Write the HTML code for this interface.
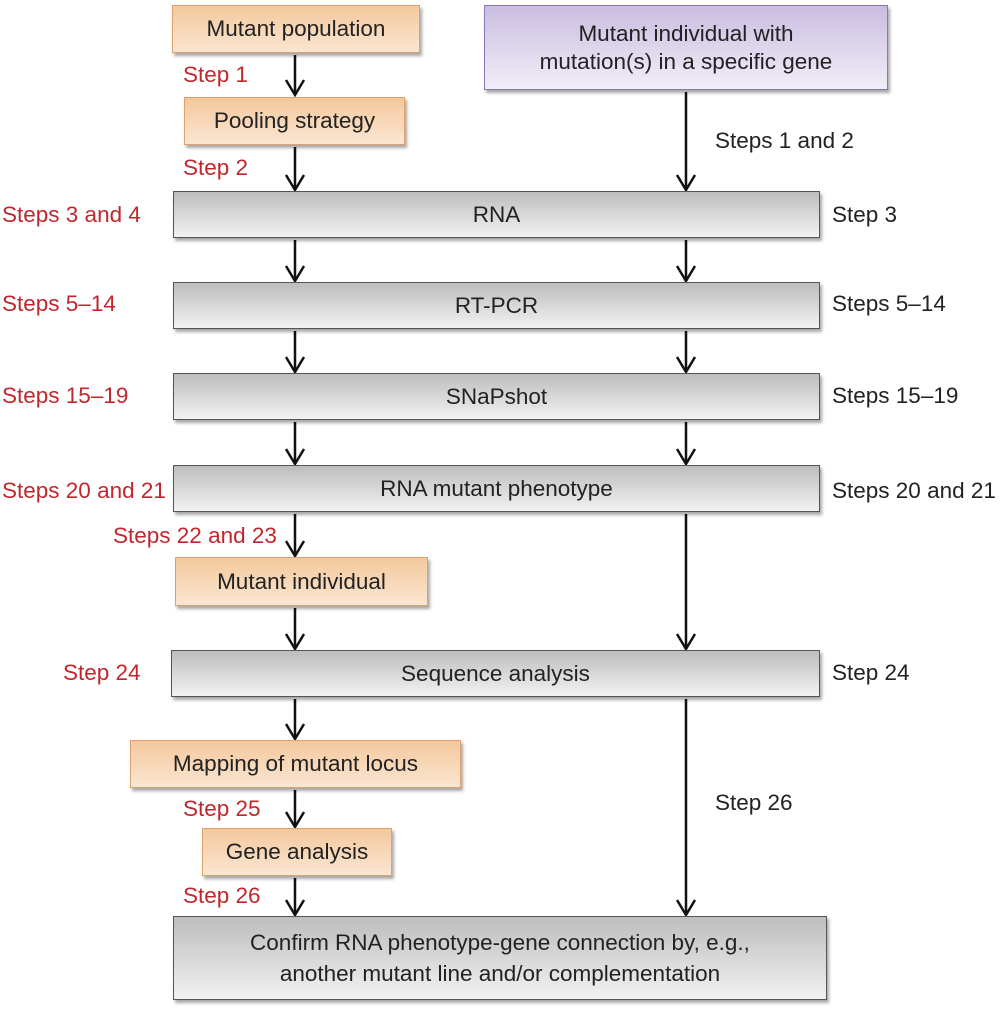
<!DOCTYPE html>
<html><head><style>
body{margin:0;width:1000px;height:1013px;background:#fff;position:relative;font-family:"Liberation Sans",sans-serif;overflow:hidden}
.b{position:absolute;box-sizing:border-box;display:flex;align-items:center;justify-content:center;text-align:center;font-size:22.5px;color:#222;line-height:28px}
.o{background:linear-gradient(#f3c89c,#fbe6d2);border:1px solid #e0a26c;box-shadow:2px 3px 3px rgba(0,0,0,.35)}
.g{background:linear-gradient(#bdbdbd,#f2f2f2);border:1.5px solid #555;box-shadow:2px 3px 3px rgba(0,0,0,.35)}
.p{background:linear-gradient(#c9bde0,#f2eef8);border:1.5px solid #8a78b8;box-shadow:2px 3px 3px rgba(0,0,0,.35)}
.t{position:absolute;font-size:22.5px;white-space:nowrap;line-height:26px}
.r{color:#c0272d}.k{color:#222}
</style></head><body>
<svg width="1000" height="1013" style="position:absolute;left:0;top:0" fill="none" stroke="#111" stroke-width="2.5">
<path d="M295 55V95M295 147V190M295 240V281M295 331V372M295 422V464M295 514V556M295 608V649M295 699V739M295 790V827M295 878V915"/>
<path d="M686 92V190M686 240V281M686 331V372M686 422V464M686 514V649M686 699V915"/>
<path d="M286 80L295 95L304 80M286 175L295 190L304 175M286 266L295 281L304 266M286 357L295 372L304 357M286 449L295 464L304 449M286 541L295 556L304 541M286 634L295 649L304 634M286 724L295 739L304 724M286 812L295 827L304 812M286 900L295 915L304 900"/>
<path d="M677 175L686 190L695 175M677 266L686 281L695 266M677 357L686 372L695 357M677 449L686 464L695 449M677 634L686 649L695 634M677 900L686 915L695 900"/>
</svg>
<div class="b o" style="left:172px;top:5px;width:248px;height:48px">Mutant population</div>
<div class="b p" style="left:484px;top:5px;width:404px;height:85px">Mutant individual with<br>mutation(s) in a specific gene</div>
<div class="b o" style="left:184px;top:97px;width:221px;height:48px">Pooling strategy</div>
<div class="b g" style="left:173px;top:191px;width:647px;height:47px">RNA</div>
<div class="b g" style="left:173px;top:282px;width:647px;height:47px">RT-PCR</div>
<div class="b g" style="left:173px;top:373px;width:647px;height:47px">SNaPshot</div>
<div class="b g" style="left:173px;top:465px;width:647px;height:47px">RNA mutant phenotype</div>
<div class="b o" style="left:175px;top:557px;width:253px;height:49px">Mutant individual</div>
<div class="b g" style="left:171px;top:650px;width:649px;height:47px">Sequence analysis</div>
<div class="b o" style="left:130px;top:740px;width:331px;height:48px">Mapping of mutant locus</div>
<div class="b o" style="left:202px;top:828px;width:190px;height:48px">Gene analysis</div>
<div class="b g" style="left:173px;top:916px;width:654px;height:84px;line-height:31px">Confirm RNA phenotype-gene connection by, e.g.,<br>another mutant line and/or complementation</div>
<div class="t r" style="left:183px;top:62px">Step 1</div>
<div class="t r" style="left:183px;top:155px">Step 2</div>
<div class="t r" style="left:2px;top:202px">Steps 3 and 4</div>
<div class="t r" style="left:2px;top:291px">Steps 5–14</div>
<div class="t r" style="left:2px;top:383px">Steps 15–19</div>
<div class="t r" style="left:2px;top:478px">Steps 20 and 21</div>
<div class="t r" style="left:113px;top:523px">Steps 22 and 23</div>
<div class="t r" style="left:63px;top:660px">Step 24</div>
<div class="t r" style="left:183px;top:796px">Step 25</div>
<div class="t r" style="left:183px;top:883px">Step 26</div>
<div class="t k" style="left:715px;top:128px">Steps 1 and 2</div>
<div class="t k" style="left:832px;top:202px">Step 3</div>
<div class="t k" style="left:832px;top:291px">Steps 5–14</div>
<div class="t k" style="left:832px;top:383px">Steps 15–19</div>
<div class="t k" style="left:832px;top:478px">Steps 20 and 21</div>
<div class="t k" style="left:832px;top:660px">Step 24</div>
<div class="t k" style="left:715px;top:790px">Step 26</div>
</body></html>
